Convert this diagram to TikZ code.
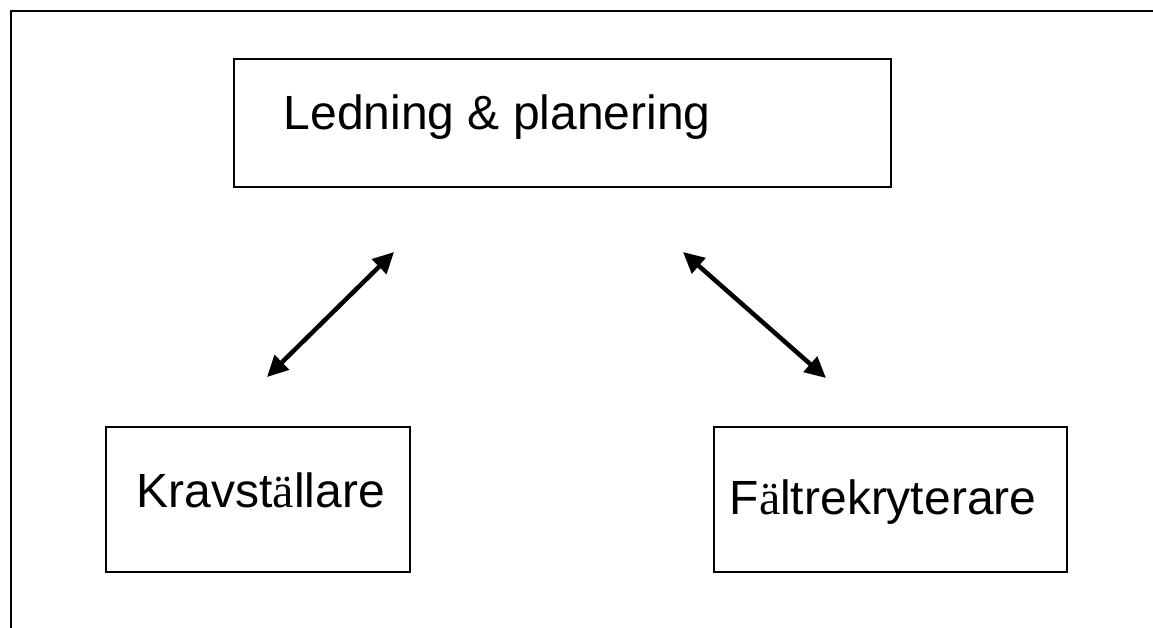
\documentclass[tikz,border=0pt]{standalone}
\usepackage{fontspec}
\setmainfont{Liberation Sans}
\newfontfamily\serifae{Liberation Serif}
\usetikzlibrary{arrows.meta}
\newcommand{\serifauml}{{\serifae ä}}
\begin{document}
\begin{tikzpicture}[x=1pt,y=-1pt,
  box/.style={draw=black,line width=2pt,rectangle,inner sep=0pt},
  lbl/.style={anchor=base west,inner sep=0pt,font=\fontsize{48pt}{52pt}\selectfont},
  dbl/.style={line width=4.5pt,{Triangle[length=21pt,width=20pt]}-{Triangle[length=21pt,width=20pt]}}]
\useasboundingbox (0,0) rectangle (1153,628);
\draw[line width=2pt] (10.5,628) -- (10.5,11) -- (1153,11);
\node[box,minimum width=657pt,minimum height=128pt] (top) at (562.5,123) {};
\node[box,minimum width=304pt,minimum height=145pt] (left) at (258,499.5) {};
\node[box,minimum width=353pt,minimum height=145pt] (right) at (890.5,499.5) {};
\node[lbl] (toptext) at (283.5,130) {Ledning \& planering};
\node[lbl] (lefttext) at (136.5,507) {Kravst\serifauml llare};
\node[lbl] (righttext) at (729.5,514) {F\serifauml ltrekryterare};
\coordinate (a1) at (267,377);
\coordinate (a2) at (394,252);
\coordinate (b1) at (683,252);
\coordinate (b2) at (826,378);
\draw[dbl] (a1) -- (a2);
\draw[dbl] (b1) -- (b2);
\end{tikzpicture}
\end{document}
